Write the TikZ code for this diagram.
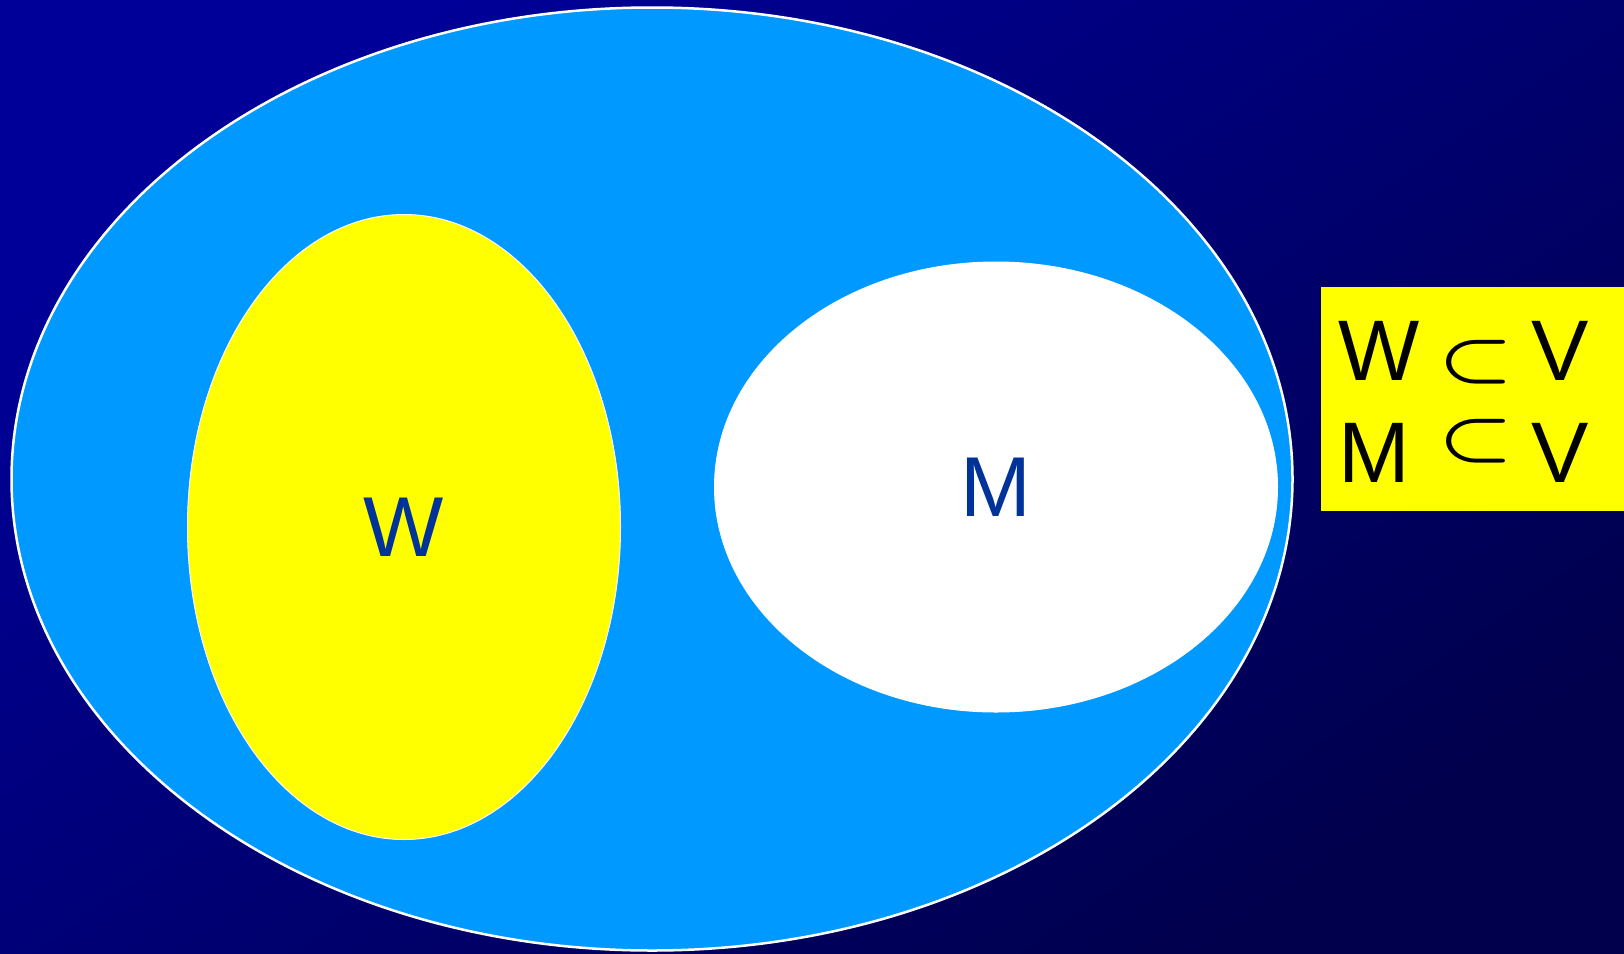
\documentclass[tikz,border=0pt]{standalone}
\usepackage{fontspec}
\setmainfont{Liberation Sans}
\usepackage{graphicx}
\usetikzlibrary{shapes.geometric}
\definecolor{slidetop}{HTML}{000099}
\definecolor{slidebottom}{HTML}{00004D}
\definecolor{setblue}{HTML}{0099FF}
\definecolor{setyellow}{HTML}{FFFF00}
\definecolor{labelblue}{HTML}{003399}
\tikzset{
  setshape/.style={ellipse, draw=white, inner sep=0pt, text=labelblue, font=\fontsize{85}{100}\selectfont},
  relation/.style={inner sep=0pt, font=\fontsize{86}{100}\selectfont},
}
\newcommand{\subrel}{\scalebox{8.4}[6.5]{\normalsize\boldmath$\subset$}}
\begin{document}
\begin{tikzpicture}[x=1pt,y=-1pt]
\useasboundingbox (0,0) rectangle (1624,953);
\fill[top color=slidetop, bottom color=slidebottom, shading angle=35] (0,0) rectangle (1624,953);
\node[setshape, fill=setblue, line width=2.5pt, minimum width=1281pt, minimum height=943pt] (vset) at (652,479) {};
\node[setshape, fill=setyellow, line width=1pt, minimum width=433pt, minimum height=625pt] (wset) at (404,527) {W};
\node[setshape, fill=white, line width=1pt, minimum width=563pt, minimum height=450pt] (mset) at (996,487) {M};
\node[fill=setyellow, inner sep=0pt, minimum width=310pt, minimum height=224pt, anchor=north west] (box) at (1320.5,287) {};
\node[relation, anchor=base] (w1) at (1379,380) {W};
\node[relation] (s1) at (1476,362) {\subrel};
\node[relation, anchor=base] (v1) at (1560,380) {V};
\node[relation, anchor=base] (m2) at (1374,482) {M};
\node[relation] (s2) at (1476,441) {\subrel};
\node[relation, anchor=base] (v2) at (1560,482) {V};
\end{tikzpicture}
\end{document}
